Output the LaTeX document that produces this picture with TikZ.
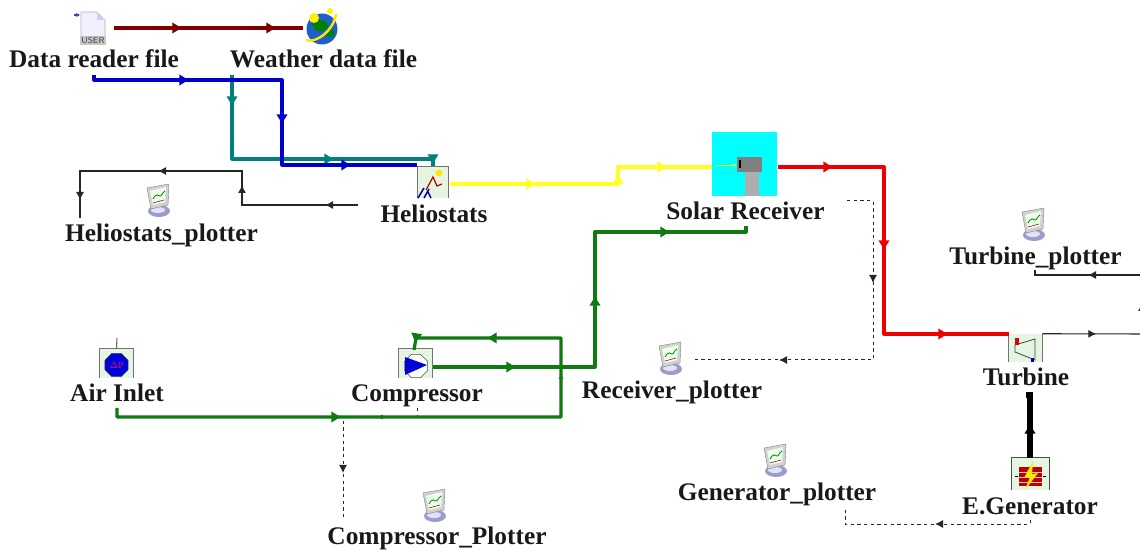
\documentclass[tikz,border=0pt]{standalone}
\usepackage{fontspec}
\setmainfont{Liberation Serif}
\usetikzlibrary{arrows.meta,decorations.markings,shapes.geometric}
\definecolor{cbrown}{HTML}{800000}
\definecolor{cblue}{HTML}{0000CC}
\definecolor{cteal}{HTML}{008080}
\definecolor{cyel}{HTML}{FFFF22}
\definecolor{cred}{HTML}{EE0000}
\definecolor{cgreen}{HTML}{0F7A12}
\definecolor{cbox}{HTML}{E6F4E2}
\definecolor{ccyan}{HTML}{00FFFF}
\definecolor{cglobe}{HTML}{1F5FC8}
\tikzset{
  lbl/.style={font=\bfseries\fontsize{19pt}{21pt}\selectfont,anchor=base,text=black!90,inner sep=0pt},
  wire/.style={line width=2.4pt,line join=round},
  thin wire/.style={line width=.8pt,black!85},
  dash wire/.style={line width=.75pt,black!85,dash pattern=on 2.6pt off 2.4pt},
  btip/.style={postaction={decorate,decoration={markings,mark=at position #1*0.75pt with {\arrow{Latex[length=8pt,width=9pt]}}}}},
  ttip/.style={postaction={decorate,decoration={markings,mark=at position #1*0.75pt with {\arrow{Latex[length=6pt,width=6pt]}}}}},
  stip/.style={postaction={decorate,decoration={markings,mark=at position #1*0.75pt with {\arrow{Latex[length=3.5pt,width=4pt]}}}}},
  iconbox/.style={fill=cbox,inner sep=0pt},
  edgeline/.style={line width=.8pt,black!55},
  plotter/.pic={
    \fill[black!25,draw=black!45,line width=.3pt] (-3,6) -- (4,4) -- (4,13) -- (-3,13) -- cycle;
    \fill[blue!30!gray!60] (0,11) ellipse [x radius=11,y radius=6];
    \fill[blue!12!white] (-1,10) ellipse [x radius=7,y radius=3];
    \fill[black!18,draw=black!50,line width=.3pt] (-12,-12) -- (10,-16) -- (9,5) -- (-8,9) -- cycle;
    \fill[white!92!green] (-9,-9) -- (7,-13) -- (6,2) -- (-6,5) -- cycle;
    \draw[green!50!black,line width=.6pt] (-6,-1) .. controls (-3,-7) and (0,-5) .. (1,-4) .. controls (2,-3) and (3,-7) .. (6,-9);
    \draw[red!60!black,line width=.4pt] (-6,3) -- (5,0);
  }
}
\begin{document}
\begin{tikzpicture}[x=0.75pt,y=-0.75pt]
\useasboundingbox (0,0) rectangle (1140,552);
\fill[white] (0,0) rectangle (1140,552);

% ---- icons (named nodes) ----
\node[inner sep=0pt,minimum width=25*0.75pt,minimum height=31*0.75pt] (file) at (93,28) {};
\fill[blue!6,draw=black!30,line width=.5pt] (81,12) -- (97,12) -- (105,20) -- (105,44) -- (81,44) -- cycle;
\fill[blue!20] (97,12) -- (97,20) -- (105,20) -- cycle;
\fill[black!22] (80,36) rectangle (106,45);
\node[inner sep=0pt,font=\fontsize{6.6pt}{7pt}\selectfont\sffamily,text=black!75] (fileuser) at (93,40.5) {USER};
\draw[-{Stealth[length=3pt,width=3pt]},blue!50!gray,line width=.8pt] (74,15) -- (80,15);

\node[circle,fill=cglobe,minimum size=31*0.75pt,inner sep=0pt] (globe) at (322,29) {};
\fill[green!50!black] (312,24) .. controls (320,17) and (328,20) .. (328,27) .. controls (323,34) and (315,33) .. (312,24) -- cycle;
\fill[green!50!black] (330,33) circle [radius=4.5];
\draw[yellow!90!orange,line width=1.8pt] (306,40) .. controls (316,44) and (334,30) .. (336,14);
\fill[yellow] (314,18) circle [radius=5];
\fill[yellow] (330,11) circle [radius=3];

\node[iconbox,minimum width=30*0.75pt,minimum height=31*0.75pt] (helio) at (433,182.5) {};
\draw[edgeline] (helio.south west) |- (helio.north east) -- (helio.south east);
\fill[yellow!90!orange] (439,173) circle [radius=3.5];
\draw[red!70!black,line width=.9pt] (426,190) -- (433,177) -- (437,186) -- (442,184);
\draw[blue!60!black,line width=1.1pt] (418,198) -- (424,188) (424,198) -- (429,189) (431,198) -- (428,192);

\node[fill=ccyan,minimum width=65*0.75pt,minimum height=64*0.75pt,inner sep=0pt] (receiver) at (744.5,164) {};
\fill[black!50] (737,157) rectangle (762,172);
\fill[black!32] (745,172) rectangle (759,196);
\draw[-{Stealth[length=3pt]},yellow!90!white,line width=.5pt] (717,165) -- (737,165);
\fill[black] (739,160) rectangle (741,168);

\node[iconbox,minimum width=33*0.75pt,minimum height=29*0.75pt] (airinlet) at (116.5,363.5) {};
\draw[edgeline] (airinlet.south west) |- (airinlet.north east) -- (airinlet.south east);
\node[regular polygon,regular polygon sides=8,fill=blue!85!black,draw=black!70,line width=.4pt,minimum size=25*0.75pt,inner sep=0pt,font=\fontsize{7pt}{7pt}\selectfont,text=magenta!70!red] (airglyph) at (116.5,365) {$\Delta$P};

\node[iconbox,minimum width=33*0.75pt,minimum height=29*0.75pt] (compressor) at (415.5,363.5) {};
\draw[edgeline] (compressor.south west) |- (compressor.north east) -- (compressor.south east);
\node[regular polygon,regular polygon sides=8,fill=white,draw=black!70,line width=.4pt,minimum size=25*0.75pt,inner sep=0pt] (compglyph) at (416,366) {};
\fill[blue!85!black] (405,357) -- (427,365) -- (405,375) -- cycle;

\node[iconbox,minimum width=33*0.75pt,minimum height=28*0.75pt] (turbine) at (1025.5,348) {};
\draw[edgeline] (turbine.south west) -- (turbine.north west) (turbine.south east) -- (turbine.north east);
\fill[cbox,draw=black!75,line width=.6pt] (1015,345) -- (1035,339) -- (1035,360) -- (1015,352) -- cycle;
\fill[red!85!black] (1015,338) rectangle (1019,345);
\fill[blue!70!black] (1031,358) rectangle (1034,362);

\node[iconbox,minimum width=37*0.75pt,minimum height=32*0.75pt] (generator) at (1030.5,474) {};
\draw[edgeline,black!70] (generator.south west) |- (generator.north east) -- (generator.south east);
\fill[red!75!black] (1019,467) rectangle (1042,486);
\draw[black!20,line width=.7pt] (1019,472) -- (1042,472) (1019,477) -- (1042,477) (1019,482) -- (1042,482);
\draw[black,line width=.7pt] (1015,476) -- (1018,476) (1043,476) -- (1046,476);
\fill[yellow!90!orange] (1033,461) -- (1024,478) -- (1030,477) -- (1025,490) -- (1038,473) -- (1032,474) -- cycle;

% ---- plotters ----
\pic (plotHelio) at (159,200) {plotter};
\pic (plotTurb) at (1034,224) {plotter};
\pic (plotRecv) at (671,358) {plotter};
\pic (plotGen) at (776,460) {plotter};
\pic (plotComp) at (435,505) {plotter};

% ---- labels ----
\node[lbl] (lData) at (94,68) {Data reader file};
\node[lbl] (lWeather) at (323.5,68) {Weather data file};
\node[lbl] (lHelioP) at (161.5,241.5) {Heliostats\_plotter};
\node[lbl] (lHelio) at (434,222.5) {Heliostats};
\node[lbl] (lRecv) at (745.5,219.5) {Solar Receiver};
\node[lbl] (lTurbP) at (1035.5,264.5) {Turbine\_plotter};
\node[lbl] (lAir) at (117,401.5) {Air Inlet};
\node[lbl] (lComp) at (417,401.5) {Compressor};
\node[lbl] (lRecvP) at (672,398.5) {Receiver\_plotter};
\node[lbl] (lTurb) at (1026,385.5) {Turbine};
\node[lbl] (lGenP) at (777,500.5) {Generator\_plotter};
\node[lbl] (lGen) at (1030,514.5) {E.Generator};
\node[lbl] (lCompP) at (437,544.5) {Compressor\_Plotter};

% ---- connector end points ----
\coordinate (fileOut) at (114,28);
\coordinate (globeIn) at (303,28);
\coordinate (dataOut) at (94,75);
\coordinate (weatherOut) at (232,75);
\coordinate (helioInA) at (417,165);
\coordinate (helioInB) at (433,166);
\coordinate (helioSig) at (358,205);
\coordinate (helioPlotIn) at (80,218);
\coordinate (helioOut) at (450,184);
\coordinate (recvIn) at (712,167);
\coordinate (recvOut) at (778,167);
\coordinate (turbIn) at (1009,334);
\coordinate (recvSig) at (847,201);
\coordinate (recvPlotIn) at (694,360);
\coordinate (compOut) at (433,367);
\coordinate (recvAir) at (746,226);
\coordinate (airOut) at (117,408);
\coordinate (compIn) at (414,350);
\coordinate (compSig) at (417,408);
\coordinate (compPlotIn) at (343,520);
\coordinate (airTop) at (117,338);
\coordinate (turbOutEnd) at (1142,334);
\coordinate (turbSigEnd) at (1142,275);
\coordinate (turbPlotIn) at (1035,270);
\coordinate (shaftTop) at (1026,395);
\coordinate (genTop) at (1030,458);
\coordinate (genSig) at (1030,520);
\coordinate (genPlotIn) at (845,507);

% ---- connectors ----
\draw[wire,cbrown,btip=69,btip=163] (fileOut) -- (globeIn);
\draw[wire,cteal,btip=32,btip=187,btip=291] (weatherOut) |- (433,159) -- (helioInB);
\draw[wire,cblue,btip=101,btip=238,btip=348] (dataOut) |- (282,80) |- (helioInA);
\draw[thin wire,ttip=33,ttip=136,ttip=234,ttip=341] (helioSig) -| (242,171) -| (helioPlotIn);
\draw[wire,cyel,btip=87,btip=179,btip=235] (helioOut) -| (618,167) -- (recvIn);
\draw[wire,cred,btip=56,btip=190,btip=338] (recvOut) -| (884,334) -- (turbIn);
\draw[dash wire,ttip=108,ttip=279] (recvSig) -| (873,360) -- (recvPlotIn);
\draw[dash wire,stip=48,ttip=139] (compSig) |- (343,417) -- (compPlotIn);
\draw[wire,cgreen,btip=84,btip=234,btip=373] (compOut) -| (595,232) -| (recvAir);
\draw[wire,cgreen,btip=234,stip=496,btip=607,btip=683] (airOut) |- (561,417) |- (416,338) -- (compIn);
\draw[thin wire,black!60] (airTop) -- (airinlet.north);
\draw[thin wire,ttip=54] (turbine.north east) -- (turbOutEnd);
\draw[thin wire,ttip=31] (turbOutEnd) -- (turbSigEnd);
\draw[thin wire,ttip=54] (turbSigEnd) -| (turbPlotIn);
\draw[line width=3.8pt,black,btip=35] (genTop) |- (shaftTop);
\draw[dash wire,ttip=99] (genSig) |- (845,524) -- (genPlotIn);
\end{tikzpicture}
\end{document}
